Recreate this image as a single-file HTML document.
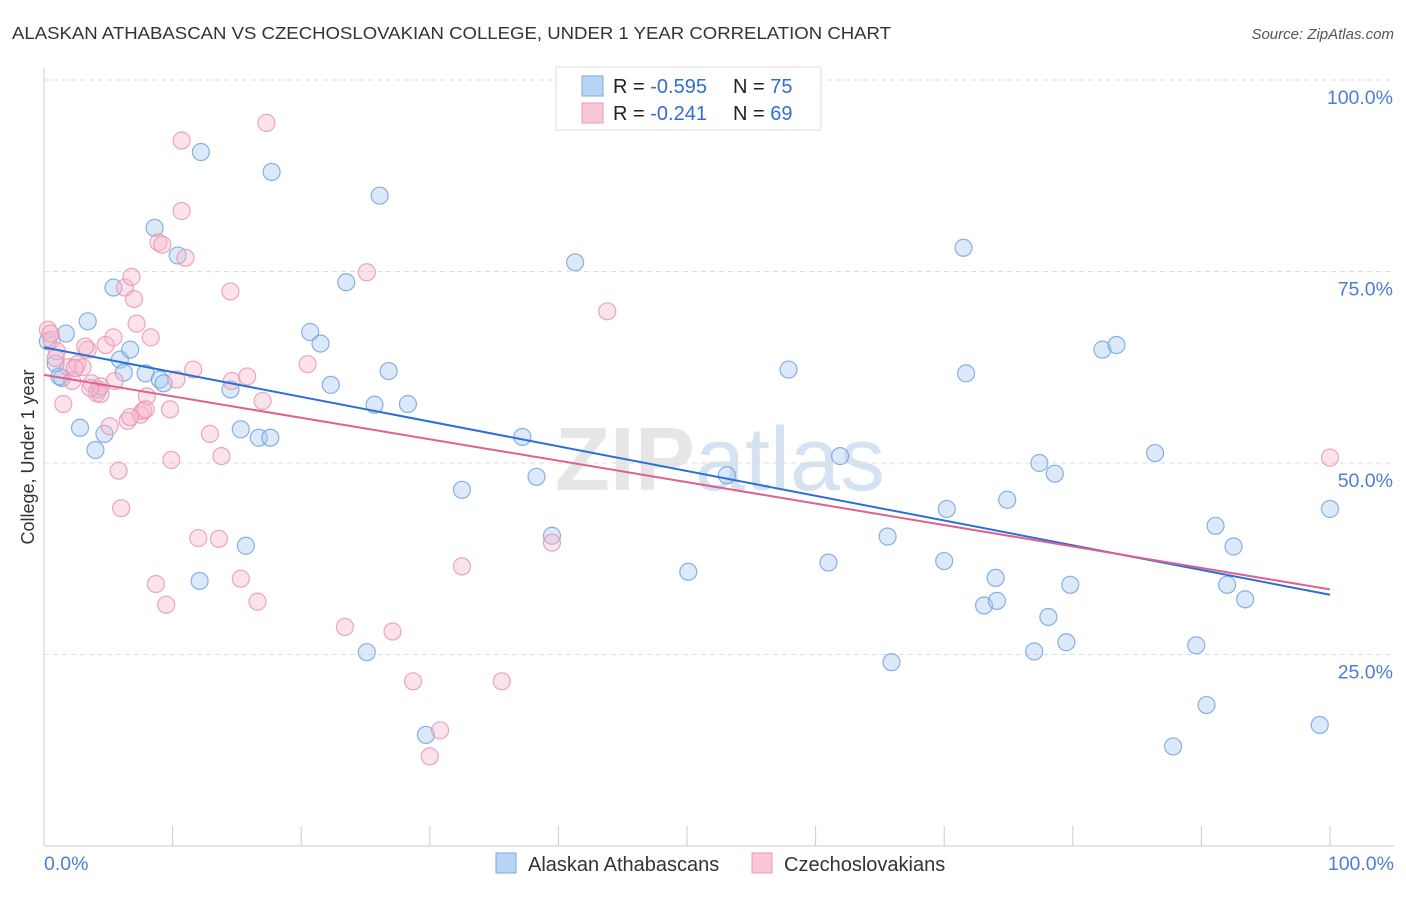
<!DOCTYPE html>
<html><head><meta charset="utf-8"><style>
body{margin:0;background:#fff;font-family:"Liberation Sans",sans-serif}
svg text{font-family:"Liberation Sans",sans-serif}
</style></head><body>
<svg id="chart" width="1406" height="892" viewBox="0 0 1406 892" xmlns="http://www.w3.org/2000/svg">
<text x="12" y="39" font-size="17.5" fill="#333" textLength="879" lengthAdjust="spacingAndGlyphs">ALASKAN ATHABASCAN VS CZECHOSLOVAKIAN COLLEGE, UNDER 1 YEAR CORRELATION CHART</text>
<text x="1394" y="39" font-size="15" fill="#555" text-anchor="end" font-style="italic">Source: ZipAtlas.com</text>
<text x="720" y="490" font-size="90" fill="#e6e6e6" text-anchor="middle" font-family="Liberation Serif" font-weight="bold">ZIP<tspan fill="#d5e2f2" font-family="Liberation Sans" font-weight="normal">atlas</tspan></text>
<g id="grid"></g>
<g id="axes"></g>
<g id="marks"></g>
<text transform="translate(34,457) rotate(-90)" font-size="18" fill="#333" text-anchor="middle">College, Under 1 year</text>
<g>
<rect x="556" y="67" width="265" height="63" fill="#fff" stroke="#ddd"/>
<rect x="582" y="76" width="21" height="20" fill="#b9d3f5" stroke="#7aa8e6"/>
<rect x="582" y="103" width="21" height="20" fill="#f9c7d6" stroke="#ec9ab5"/>
<text x="613" y="93" font-size="20" fill="#222">R = <tspan fill="#2f6fd3">-0.595</tspan><tspan x="733">N = </tspan><tspan fill="#2f6fd3">75</tspan></text>
<text x="613" y="120" font-size="20" fill="#222">R = <tspan fill="#2f6fd3"> -0.241</tspan><tspan x="733">N = </tspan><tspan fill="#2f6fd3">69</tspan></text>
</g>
<g>
<rect x="496" y="853" width="20" height="20" fill="#b9d3f5" stroke="#7aa8e6"/>
<text x="528" y="871" font-size="20" fill="#333">Alaskan Athabascans</text>
<rect x="752" y="853" width="20" height="20" fill="#f9c7d6" stroke="#ec9ab5"/>
<text x="784" y="871" font-size="20" fill="#333">Czechoslovakians</text>
</g>
</svg>
<script>
const yTicks=[25,50,75,100];
const yTickLabels=["25.0%","50.0%","75.0%","100.0%"];
const xTickLabels=["0.0%","100.0%"];
const blueX=[0.3,0.9,1.4,1.7,2.8,3.4,4.0,4.2,4.7,5.4,5.9,6.2,6.7,7.9,8.6,9.0,9.3,10.4,12.1,12.2,14.5,15.3,15.7,16.7,17.6,17.7,20.7,21.5,22.3,23.5,25.1,25.7,26.1,26.8,28.3,29.7,32.5,37.2,38.3,39.5,41.3,50.1,53.1,57.9,61.0,61.9,65.6,65.9,70.0,70.2,71.5,71.7,73.1,74.0,74.1,74.9,77.0,77.4,78.1,78.6,79.5,79.8,82.3,83.4,86.4,87.8,89.6,90.4,91.1,92.0,92.5,93.4,99.2,100.0,1.2];
const blueY=[65.9,63.0,61.1,66.9,54.6,68.5,51.7,59.6,53.8,72.9,63.5,61.8,64.8,61.7,80.7,60.9,60.4,77.1,34.6,90.6,59.6,54.4,39.2,53.3,53.3,88.0,67.1,65.6,60.2,73.6,25.3,57.6,84.9,62.0,57.7,14.5,46.5,53.4,48.2,40.5,76.2,35.8,48.4,62.2,37.0,50.9,40.4,24.0,37.2,44.0,78.1,61.7,31.4,35.0,32.0,45.2,25.4,50.0,29.9,48.6,26.6,34.1,64.8,65.4,51.3,13.0,26.2,18.4,41.8,34.1,39.1,32.2,15.8,44.0,61.3];
const pinkX=[0.3,0.6,1.0,1.5,1.9,2.2,2.6,3.0,3.4,3.7,4.1,4.4,4.8,5.1,5.4,5.8,6.0,6.3,6.5,6.8,7.0,7.2,7.5,7.7,8.0,8.3,8.7,8.9,9.2,9.5,9.8,9.9,10.3,10.7,10.7,11.0,11.6,12.0,12.9,13.6,13.8,14.5,14.6,15.3,15.8,16.6,17.0,17.3,20.5,23.4,25.1,27.1,28.7,30.0,30.8,32.5,35.6,39.5,43.8,100.0,0.5,3.2,2.4,4.4,7.9,5.5,6.7,3.6,0.9];
const pinkY=[67.4,66.1,64.6,57.7,62.5,60.7,62.9,62.5,64.8,60.4,59.1,60.0,65.4,54.8,66.4,49.0,44.1,72.9,55.5,74.3,71.4,68.2,56.3,56.8,58.7,66.4,34.2,78.8,78.5,31.5,57.0,50.4,60.9,92.1,82.9,76.8,62.2,40.2,53.8,40.1,50.9,72.4,60.7,34.9,61.3,31.9,58.1,94.4,62.9,28.6,74.9,28.0,21.5,11.7,15.1,36.5,21.5,39.6,69.8,50.7,66.9,65.2,62.4,59.0,57.0,60.7,56.0,59.8,63.7];
const blueTrend=[65.1,32.8];
const pinkTrend=[61.5,33.5];
const NS="http://www.w3.org/2000/svg";
const X0=44,X1=1330,Y0=846,Y1=80;
function sx(v){return X0+(X1-X0)*v/100;}
function sy(v){return Y0-(Y0-Y1)*v/100;}
function mk(tag,attrs,parent){const e=document.createElementNS(NS,tag);for(const k in attrs)e.setAttribute(k,attrs[k]);parent.appendChild(e);return e;}
const grid=document.getElementById('grid'),axes=document.getElementById('axes'),marks=document.getElementById('marks');
yTicks.forEach((t,i)=>{
 const l=mk('line',{x1:X0,x2:1394,y1:sy(t),y2:sy(t),stroke:'#ddd','stroke-dasharray':'5,4'},grid);
 
 
 const tx=mk('text',{x:1393,y:sy(t)+24,'font-size':19.5,fill:'#4a7fd6','text-anchor':'end'},axes);
 tx.textContent=yTickLabels[i];
 
 
});
const ax=mk('line',{x1:X0,x2:1394,y1:Y0,y2:Y0,stroke:'#ccc'},axes);


const ay=mk('line',{x1:X0,x2:X0,y1:68,y2:Y0,stroke:'#ccc'},axes);


for(let i=0;i<=10;i++){
 const tk=mk('line',{x1:sx(i*10),x2:sx(i*10),y1:Y0,y2:Y0-20,stroke:'#ccc'},axes);
 
 
}
[[0,'start',44],[100,'end',1394]].forEach((d,i)=>{
 const t=mk('text',{x:d[2],y:870,'font-size':19.5,fill:'#4a7fd6','text-anchor':d[1]},axes);
 t.textContent=xTickLabels[i];
 
 
});
function pts(xs,ys,fill,stroke,name){
 xs.forEach((x,i)=>{
  const c=mk('circle',{cx:sx(x),cy:sy(ys[i]),r:8.5,fill:fill,'fill-opacity':0.4,stroke:stroke,'stroke-width':1.2,'stroke-opacity':0.8},marks);
  
  
 });
}
pts(blueX,blueY,'#a8c8f0','#6a9fe0','alaskan-point');
pts(pinkX,pinkY,'#f5b8cc','#e890b0','czech-point');
const bl=mk('line',{x1:sx(0),y1:sy(blueTrend[0]),x2:sx(100),y2:sy(blueTrend[1]),stroke:'#2a6fd6','stroke-width':2},marks);


const pl=mk('line',{x1:sx(0),y1:sy(pinkTrend[0]),x2:sx(100),y2:sy(pinkTrend[1]),stroke:'#e0608f','stroke-width':2},marks);


</script>
</body></html>
